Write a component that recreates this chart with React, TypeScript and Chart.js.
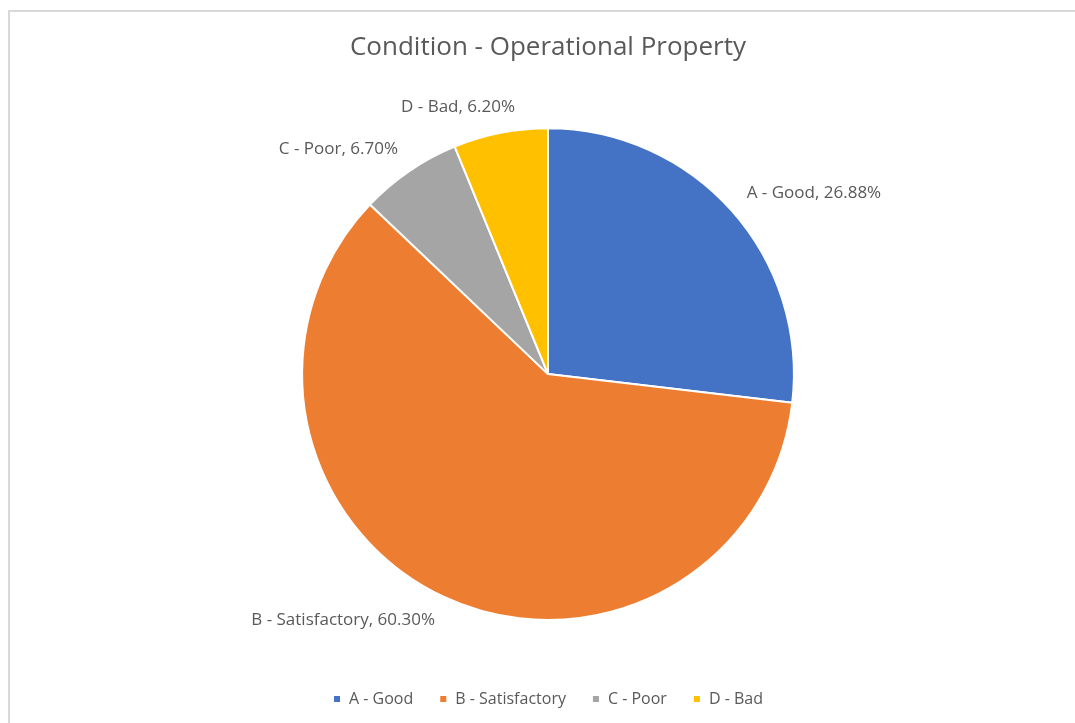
import React, { useEffect, useRef } from "react";
import { Chart, registerables } from "chart.js";

Chart.register(...registerables);

const categories = ["A - Good", "B - Satisfactory", "C - Poor", "D - Bad"];
const values = [26.88, 60.3, 6.7, 6.2];
const valueLabels = ["26.88%", "60.30%", "6.70%", "6.20%"];
const colors = ["#4472C4", "#ED7D31", "#A5A5A5", "#FFC000"];
const titleText = "Condition - Operational Property";

const FONT = "'Open Sans', 'Noto Sans', sans-serif";
const TEXT_COLOR = "#595959";

const outsideLabels = {
  id: "outsideLabels",
  afterDatasetsDraw(chart: any) {
    const ctx = chart.ctx;
    const meta = chart.getDatasetMeta(0);
    ctx.save();
    ctx.font = `17px ${FONT}`;
    ctx.fillStyle = TEXT_COLOR;
    ctx.textBaseline = "middle";
    ctx.textAlign = "center";
    meta.data.forEach((arc: any, i: number) => {
      const { x, y, startAngle, endAngle, outerRadius } = arc.getProps(
        ["x", "y", "startAngle", "endAngle", "outerRadius"],
        true
      );
      const mid = (startAngle + endAngle) / 2;
      const gap = 20;
      const c = Math.cos(mid);
      const s = Math.sin(mid);
      const px = x + (outerRadius + gap) * c;
      const py = y + (outerRadius + gap) * s;
      const text = `${categories[i]}, ${valueLabels[i]}`;
      const w = ctx.measureText(text).width;
      const h = 12;
      const f = Math.max(-1, Math.min(1, c * 3.5));
      ctx.fillText(text, px + (w / 2) * f, py + (h / 2) * s);
    });
    ctx.restore();
  },
};

export default function App() {
  const ref = useRef<HTMLCanvasElement>(null);
  useEffect(() => {
    if (!ref.current) return;
    const chart = new Chart(ref.current, {
      type: "pie",
      data: {
        labels: categories,
        datasets: [
          {
            data: values,
            backgroundColor: colors,
            borderColor: "#ffffff",
            borderWidth: 2,
          },
        ],
      },
      options: {
        responsive: false,
        animation: false,
        layout: { padding: { top: 0, bottom: 6, left: 41, right: 20 } },
        plugins: {
          title: {
            display: true,
            text: titleText,
            color: TEXT_COLOR,
            font: { family: FONT, size: 26, weight: "normal" as any },
            padding: { top: 32, bottom: 64 },
          },
          legend: {
            display: true,
            position: "bottom",
            title: {
              display: true,
              text: " ",
              padding: { top: 32, bottom: 0 },
              font: { family: FONT, size: 10 },
            },
            labels: {
              color: TEXT_COLOR,
              font: { family: FONT, size: 16 },
              boxWidth: 8,
              boxHeight: 8,
              padding: 26,
            },
          },
          tooltip: { enabled: false },
        },
      },
      plugins: [outsideLabels],
    });
    return () => chart.destroy();
  }, []);
  return (
    <div style={{ position: "fixed", left: 0, top: 0, width: 1075, height: 723, background: "#fff" }}>
      <div
        style={{
          position: "absolute",
          left: 8,
          top: 10,
          right: -10,
          bottom: -10,
          borderTop: "2px solid #d9d9d9",
          borderLeft: "2px solid #d9d9d9",
        }}
      />
      <canvas
        ref={ref}
        width={1075}
        height={723}
        style={{ position: "absolute", left: 0, top: 0, width: 1075, height: 723 }}
      />
    </div>
  );
}
